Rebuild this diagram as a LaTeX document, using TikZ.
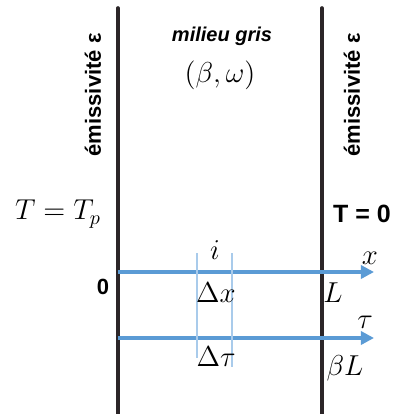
\documentclass[tikz,border=0pt]{standalone}
\usepackage{fontspec}
\usepackage{amsmath}
\usetikzlibrary{arrows.meta}
\newfontfamily\arialfont{Liberation Sans}
\definecolor{axisblue}{HTML}{5B9BD5}
\definecolor{cellblue}{HTML}{A9CBEB}
\definecolor{wallgray}{HTML}{2B2528}

\begin{document}
\begin{tikzpicture}[x=0.5pt,y=-0.5pt,>=Stealth,
  wall/.style={line width=1.8pt,wallgray,line cap=round},
  axis/.style={line width=1.7pt,axisblue,-{Triangle[length=6.5pt,width=6.5pt]}},
  cell/.style={line width=0.6pt,cellblue},
  mth/.style={font=\fontsize{14.5}{17}\selectfont,inner sep=0pt},
  lbl/.style={font=\arialfont\bfseries\fontsize{11}{13}\selectfont,inner sep=0pt}]
\useasboundingbox (0,0) rectangle (395,414);
% walls
\coordinate (wl top) at (118,8);
\coordinate (wl bot) at (118,414);
\coordinate (wr top) at (322,8);
\coordinate (wr bot) at (322,414);
\draw[wall] (wl top) -- (wl bot);
\draw[wall] (wr top) -- (wr bot);
% axes
\coordinate (x0) at (118,272);
\coordinate (x1) at (374,272);
\coordinate (t0) at (118,338);
\coordinate (t1) at (374,338);
\draw[axis] (x0) -- (x1);
\draw[axis] (t0) -- (t1);
% cell i
\coordinate (ca top) at (197,253);
\coordinate (ca bot) at (197,358);
\coordinate (cb top) at (232,253);
\coordinate (cb bot) at (232,367);
\draw[cell] (ca top) -- (ca bot);
\draw[cell] (cb top) -- (cb bot);
% labels
\node[lbl,rotate=90] (epsl) at (93,95) {émissivité ε};
\node[lbl,rotate=90] (epsr) at (352,95) {émissivité ε};
\node[lbl,font=\arialfont\bfseries\itshape\fontsize{10}{12}\selectfont] (milieu) at (222,36) {milieu gris};
\node[mth] (params) at (220,75) {$(\beta,\omega)$};
\node[mth] (tp) at (58,214) {$T=T_p$};
\node[lbl,font=\arialfont\bfseries\fontsize{12.5}{15}\selectfont] (t0lbl) at (362,214) {T = 0};
\node[lbl] (zero) at (103,287) {0};
\node[mth] (ilbl) at (215,250) {$i$};
\node[mth] (dx) at (216,293) {$\Delta x$};
\node[mth] (dt) at (216,357) {$\Delta\tau$};
\node[mth] (llbl) at (333,293) {$L$};
\node[mth] (bl) at (345,368) {$\beta L$};
\node[mth] (xlbl) at (370,258) {$x$};
\node[mth] (taulbl) at (365,322) {$\tau$};
\end{tikzpicture}
\end{document}
